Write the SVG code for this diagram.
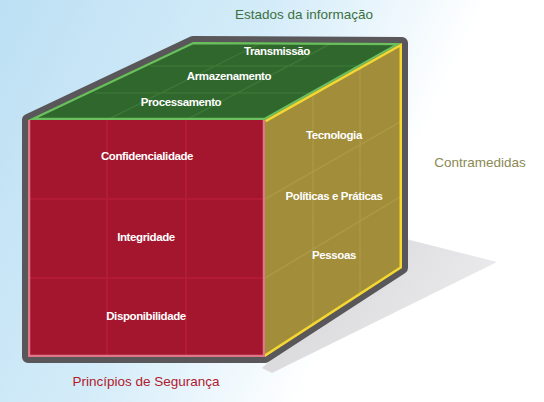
<svg xmlns="http://www.w3.org/2000/svg" width="544" height="402" viewBox="0 0 544 402">
<defs>
<linearGradient id="bg" x1="0" y1="0" x2="1" y2="0.35">
<stop offset="0" stop-color="#bde0f4"/>
<stop offset="0.45" stop-color="#d4ecf9"/>
<stop offset="0.8" stop-color="#ffffff"/>
</linearGradient>
<linearGradient id="sh" x1="0" y1="0" x2="1" y2="0.4">
<stop offset="0" stop-color="#d3d3d5"/>
<stop offset="1" stop-color="#ebebed"/>
</linearGradient>
<clipPath id="cFront"><polygon points="28,120 265,120 265,357 28,357"/></clipPath>
<clipPath id="cTop"><polygon points="28,120 193,42 402,43 265,120"/></clipPath>
<clipPath id="cRight"><polygon points="265,120 402,43 402,268 265,357"/></clipPath>
<style>
.lbl{font-family:"Liberation Sans",Arial,sans-serif;font-weight:bold;font-size:11.5px;fill:#ffffff;text-anchor:middle;letter-spacing:-0.4px}
.ttl{font-family:"Liberation Sans",Arial,sans-serif;font-size:13.5px;text-anchor:middle}
.gf{stroke:#b91c37;stroke-width:1.5;fill:none}
.gt{stroke:#3b7735;stroke-width:1.5;fill:none}
.gr{stroke:#ad9944;stroke-width:1.5;fill:none}
</style>
</defs>
<rect x="0" y="0" width="544" height="402" fill="url(#bg)"/>
<g id="shadow"><polygon points="402,238 497,262 272,373 262,368" fill="url(#sh)"/></g>
<g id="cube">
<polygon id="outline" points="28,120 193,42 402,43 402,268 265,357 28,357" fill="#59575a" stroke="#59575a" stroke-width="12" stroke-linejoin="round"/>
<g id="front-face">
<polygon points="28,120 265,120 265,357 28,357" fill="#a3162d"/>
<g clip-path="url(#cFront)">
<path class="gf" d="M107,120V357M186,120V357M28,199H265M28,278H265"/>
<polyline points="28,120 28,357 265,357 265,120" fill="none" stroke="#e07788" stroke-width="4.5"/>
</g>
</g>
<g id="top-face">
<polygon points="28,120 193,42 402,43 265,120" fill="#2f672d"/>
<g clip-path="url(#cTop)">
<path class="gt" d="M107,120L263,42M186,120L332,43M150,66H380M95,93H360"/>
<polygon points="28,120 193,42 402,43 265,120" fill="none" stroke="#6cbf5e" stroke-width="4.5"/>
</g>
</g>
<g id="right-face">
<polygon points="265,120 402,43 402,268 265,357" fill="#a18d3a"/>
<g clip-path="url(#cRight)">
<path class="gr" d="M313,80V340M360,60V310M265,199L402,121M265,278L402,196"/>
<polyline points="265,120 402,43 402,268 265,357" fill="none" stroke="#f4d731" stroke-width="5" stroke-linejoin="round"/>
</g>
</g>
</g>
<g id="top-labels">
<g id="n-transmissao"><text class="lbl" x="277" y="55">Transmissão</text></g>
<g id="n-armazenamento"><text class="lbl" x="229" y="80">Armazenamento</text></g>
<g id="n-processamento"><text class="lbl" x="181" y="106">Processamento</text></g>
</g>
<g id="front-labels">
<g id="n-confidencialidade"><text class="lbl" x="147" y="160">Confidencialidade</text></g>
<g id="n-integridade"><text class="lbl" x="146" y="241">Integridade</text></g>
<g id="n-disponibilidade"><text class="lbl" x="146" y="320">Disponibilidade</text></g>
</g>
<g id="right-labels">
<g id="n-tecnologia"><text class="lbl" x="334" y="139">Tecnologia</text></g>
<g id="n-politicas"><text class="lbl" x="334" y="200">Políticas e Práticas</text></g>
<g id="n-pessoas"><text class="lbl" x="334" y="259">Pessoas</text></g>
</g>
<g id="titles">
<text id="t-estados" class="ttl" x="304" y="19" fill="#3b7041">Estados da informação</text>
<text id="t-contramedidas" class="ttl" x="480" y="167" fill="#8b8953">Contramedidas</text>
<text id="t-principios" class="ttl" x="146" y="386" fill="#b01a2c">Princípios de Segurança</text>
</g>
</svg>
